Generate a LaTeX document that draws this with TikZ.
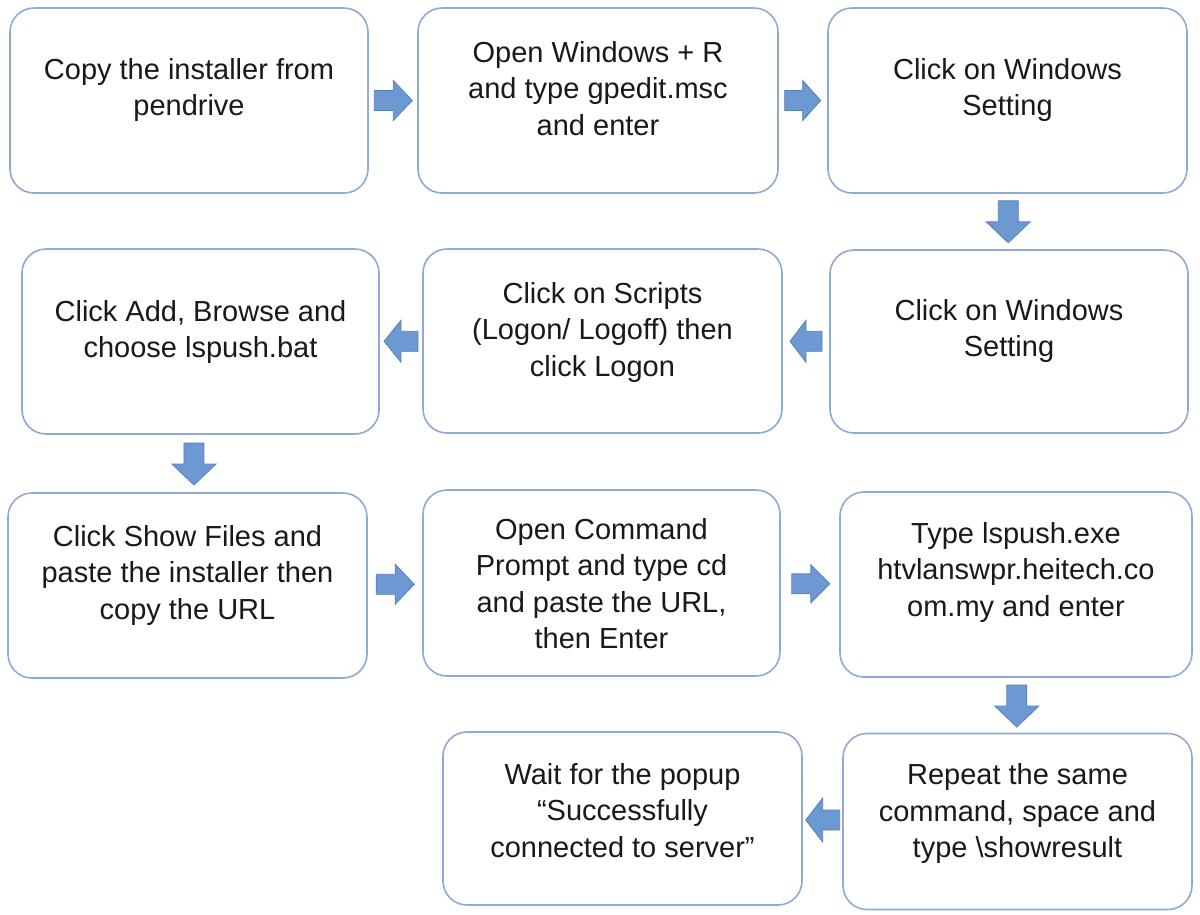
\documentclass[tikz,border=0pt]{standalone}
\usepackage{fontspec}
\setmainfont{Liberation Sans}
\usetikzlibrary{calc}
\definecolor{boxline}{RGB}{143,170,214}
\definecolor{arrfill}{RGB}{108,153,210}
\definecolor{arredge}{RGB}{88,128,188}
\tikzset{
  flowbox/.style={draw=boxline, line width=1.6pt, rounded corners=24pt, fill=white, inner sep=0pt},
  flowtext/.style={align=center, inner sep=0pt, anchor=north, font=\fontsize{29}{36.5}\selectfont, text=black!90},
  blockarr/.style={fill=arrfill, draw=arredge, line width=0.8pt, line join=miter},
}
\newcommand\topstrut{\rule{0pt}{25pt}}
% from, to, angle, pos, half length, head half width
\newcommand\flowarrow[6]{%
  \path (#1) -- coordinate[pos=#4] (#1to#2) (#2);
  \filldraw[blockarr, shift={(#1to#2)}, rotate=#3]
    (-#5,-10) -- (0,-10) -- (0,-#6) -- (#5,0) -- (0,#6) -- (0,10) -- (-#5,10) -- cycle;}
\begin{document}
\begin{tikzpicture}[x=1pt,y=-1pt]
\useasboundingbox (0,0) rectangle (1200,914);
\fill[white] (0,0) rectangle (1200,914);

% boxes
\node[flowbox, minimum width=358pt, minimum height=185pt] (b1) at (189,100.5) {};
\node[flowbox, minimum width=360pt, minimum height=185pt] (b2) at (598,100.5) {};
\node[flowbox, minimum width=359pt, minimum height=185pt] (b3) at (1007.5,100.5) {};
\node[flowbox, minimum width=357pt, minimum height=185pt] (b4) at (200.5,341.5) {};
\node[flowbox, minimum width=359pt, minimum height=184pt] (b5) at (602.5,341) {};
\node[flowbox, minimum width=358pt, minimum height=183pt] (b6) at (1009,341.5) {};
\node[flowbox, minimum width=359pt, minimum height=185pt] (b7) at (187.5,585.5) {};
\node[flowbox, minimum width=357pt, minimum height=186pt] (b8) at (601.5,583) {};
\node[flowbox, minimum width=352pt, minimum height=185pt] (b9) at (1016,584.5) {};
\node[flowbox, minimum width=359pt, minimum height=173pt] (b10) at (622.5,818.5) {};
\node[flowbox, minimum width=349pt, minimum height=176pt] (b11) at (1017.5,821.5) {};

% texts
\node[flowtext] (t1) at ($(b1.north)+(0,47)$) {\topstrut Copy the installer from\\pendrive};
\node[flowtext] (t2) at ($(b2.north)+(0,30)$) {\topstrut Open Windows + R\\and type gpedit.msc\\and enter};
\node[flowtext] (t3) at ($(b3.north)+(0,47)$) {\topstrut Click on Windows\\Setting};
\node[flowtext] (t4) at ($(b4.north)+(0,48)$) {\topstrut Click Add, Browse and\\choose lspush.bat};
\node[flowtext] (t5) at ($(b5.north)+(0,30)$) {\topstrut Click on Scripts\\(Logon/ Logoff) then\\click Logon};
\node[flowtext] (t6) at ($(b6.north)+(0,46)$) {\topstrut Click on Windows\\Setting};
\node[flowtext] (t7) at ($(b7.north)+(0,29)$) {\topstrut Click Show Files and\\paste the installer then\\copy the URL};
\node[flowtext] (t8) at ($(b8.north)+(0,25)$) {\topstrut Open Command\\Prompt and type cd\\and paste the URL,\\then Enter};
\node[flowtext] (t9) at ($(b9.north)+(0,27)$) {\topstrut Type lspush.exe\\htvlanswpr.heitech.co\\om.my and enter};
\node[flowtext] (t10) at ($(b10.north)+(0,28)$) {\topstrut Wait for the popup\\“Successfully\\connected to server”};
\node[flowtext] (t11) at ($(b11.north)+(0,27)$) {\topstrut Repeat the same\\command, space and\\type \textbackslash showresult};

% connectors (block arrows)
\flowarrow{b1}{b2}{0}{0.506}{19}{20}
\flowarrow{b2}{b3}{0}{0.494}{18}{20}
\flowarrow{b3}{b6}{-90}{0.506}{21}{22}
\flowarrow{b6}{b5}{180}{0.5}{16}{21}
\flowarrow{b5}{b4}{180}{0.5}{17}{21}
\flowarrow{b4}{b7}{-90}{0.51}{21}{22}
\flowarrow{b7}{b8}{0}{0.504}{19}{20}
\flowarrow{b8}{b9}{0}{0.513}{19}{19}
\flowarrow{b9}{b11}{-90}{0.515}{21}{22}
\flowarrow{b11}{b10}{180}{0.494}{17}{22}
\end{tikzpicture}
\end{document}
